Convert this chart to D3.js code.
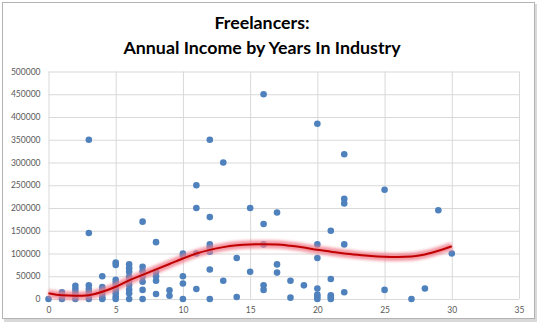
<!DOCTYPE html>
<html>
<head>
<meta charset="utf-8">
<script src="https://cdn.jsdelivr.net/npm/d3@7"></script>
<style>
  body { margin: 0; background: #fff; }
  svg { display: block; }
  .tick text { font-family: Lato, "Open Sans", sans-serif; font-size: 8.5px; fill: #595959; }
  .title { font-family: Lato, "Open Sans", sans-serif; font-weight: bold; font-size: 17.8px; fill: #000; }
</style>
</head>
<body>
<svg id="chart" width="540" height="326"></svg>
<script>
// years in industry / annual income
var years = [0,
    1, 1, 1, 1,
    2, 2, 2, 2, 2,
    3, 3, 3, 3, 3, 3, 3,
    4, 4, 4, 4, 4, 4,
    5, 5, 5, 5, 5, 5, 5, 5, 5,
    6, 6, 6, 6, 6, 6, 6, 6, 6,
    7, 7, 7, 7, 7, 7, 7,
    8, 8, 8, 8, 8,
    9, 9,
    10, 10, 10, 10, 10,
    11, 11, 11, 11,
    12, 12, 12, 12, 12, 12, 12,
    13, 13,
    14, 14,
    15, 15,
    16, 16, 16, 16, 16,
    17, 17, 17,
    18, 18,
    19,
    20, 20, 20, 20, 20, 20, 20,
    21, 21, 21, 21, 21,
    22, 22, 22, 22, 22,
    25, 25,
    27,
    28,
    29,
    30];
var income = [0,
    15000, 10000, 5000, 0,
    29000, 22000, 14000, 7000, 0,
    350000, 145000, 30000, 22000, 15000, 7000, 0,
    50000, 26000, 19000, 11000, 3000, 0,
    80000, 75000, 42000, 35000, 27000, 20000, 12500, 5000, 0,
    76000, 67500, 60000, 49000, 40000, 31000, 21000, 12500, 0,
    170000, 71000, 61000, 50000, 38000, 20000, 0,
    125000, 60000, 50000, 40000, 11000,
    19000, 7000,
    100000, 95000, 50000, 34000, 0,
    250000, 200000, 100000, 22000,
    350000, 180000, 120000, 113000, 104000, 65000, 0,
    300000, 40000,
    90000, 4500,
    200000, 60000,
    450000, 165000, 120000, 30000, 20000,
    190000, 76000, 58000,
    40000, 3000,
    30000,
    385000, 120000, 90000, 23000, 10000, 5000, 0,
    150000, 44000, 8000, 4000, 0,
    318000, 220000, 210000, 120000, 15000,
    240000, 20000,
    0,
    23000,
    195000,
    100000];

// trendline as drawn in the picture
var trendX = [0, 1, 2, 3, 4, 5, 6, 7, 8, 9, 10, 11, 12, 13, 14, 15, 16, 17, 18, 19, 20,
    21, 22, 23, 24, 25, 26, 27, 28, 29, 30];
var trendY = [12500, 8000, 7000, 8500, 16000, 27000, 41000, 53000, 65000, 77000, 89000,
    100000, 108000, 114000, 118000, 120000, 120500, 120000, 117000, 113000, 108000,
    104000, 100000, 97000, 94500, 93000, 92500, 93500, 98000, 106000, 116000];

var xTicks = [0, 5, 10, 15, 20, 25, 30, 35];
var yTicks = [0, 50000, 100000, 150000, 200000, 250000, 300000, 350000, 400000, 450000, 500000];
var titleLines = ['Freelancers:', 'Annual Income by Years In Industry'];

var svg = d3.select('#chart');

// outer frame with a soft shadow
svg.append('rect')
    .attr('x', 4).attr('y', 4).attr('width', 533).attr('height', 318)
    .attr('fill', '#d9d9d9');
svg.append('rect')
    .attr('x', 2.5).attr('y', 2.5).attr('width', 532).attr('height', 316)
    .attr('fill', '#fff').attr('stroke', '#b3b3b3');

var x = d3.scaleLinear().domain([0, 35]).range([48.5, 519]),
    y = d3.scaleLinear().domain([0, 500000]).range([299, 71.5]);

// gridlines
svg.append('g')
    .attr('transform', 'translate(0,299)')
    .call(d3.axisBottom(x).tickValues(xTicks).tickSize(-227.5).tickFormat(''))
    .call(g => g.select('.domain').remove())
    .call(g => g.selectAll('line').attr('stroke', '#d9d9d9'));
svg.append('g')
    .attr('transform', 'translate(48.5,0)')
    .call(d3.axisLeft(y).tickValues(yTicks).tickSize(-470.5).tickFormat(''))
    .call(g => g.select('.domain').remove())
    .call(g => g.selectAll('line').attr('stroke', '#d9d9d9'));

// axis labels
svg.append('g')
    .attr('transform', 'translate(0,299)')
    .call(d3.axisBottom(x).tickValues(xTicks).tickSize(0).tickPadding(8).tickFormat(d3.format('d')))
    .call(g => g.select('.domain').remove());
svg.append('g')
    .attr('transform', 'translate(48.5,0)')
    .call(d3.axisLeft(y).tickValues(yTicks).tickSize(0).tickPadding(8).tickFormat(d3.format('d')))
    .call(g => g.select('.domain').remove());

// title
svg.append('g').selectAll('text')
    .data(titleLines)
    .join('text')
    .attr('class', 'title')
    .attr('x', 262)
    .attr('y', (d, i) => 28.5 + i * 25.5)
    .attr('text-anchor', 'middle')
    .text(d => d);

// points
svg.append('g').selectAll('circle')
    .data(years.map((d, i) => [d, income[i]]))
    .join('circle')
    .attr('cx', d => x(d[0]))
    .attr('cy', d => y(d[1]))
    .attr('r', 3.3)
    .attr('fill', '#4f81bd');

// trendline with glow
var defs = svg.append('defs');
defs.append('filter').attr('id', 'glow')
    .attr('x', '-10%').attr('y', '-50%').attr('width', '120%').attr('height', '200%')
    .append('feGaussianBlur').attr('stdDeviation', 1.8);

var line = d3.line()
    .x((d, i) => x(trendX[i]))
    .y(d => y(d))
    .curve(d3.curveMonotoneX);

svg.append('path')
    .attr('d', line(trendY))
    .attr('fill', 'none')
    .attr('stroke', '#f07a8a')
    .attr('stroke-opacity', 0.8)
    .attr('stroke-width', 8)
    .attr('filter', 'url(#glow)');
svg.append('path')
    .attr('d', line(trendY))
    .attr('fill', 'none')
    .attr('stroke', '#c00000')
    .attr('stroke-width', 2);
</script>
</body>
</html>
